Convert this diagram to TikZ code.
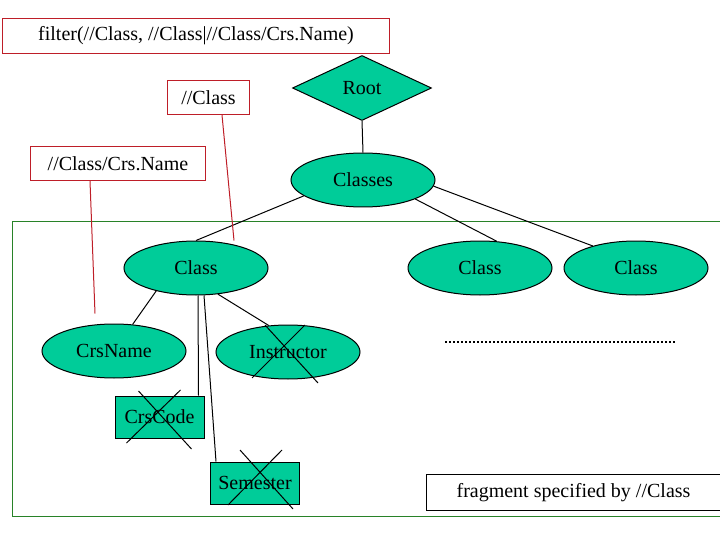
\documentclass[tikz,border=0pt]{standalone}
\usepackage{fontspec}
\setmainfont{Liberation Serif}
\usetikzlibrary{shapes.geometric}
\definecolor{elfill}{RGB}{0,204,153}
\definecolor{boxred}{RGB}{190,30,40}
\definecolor{framegreen}{RGB}{40,130,40}
\begin{document}
\begin{tikzpicture}[x=1pt,y=-1pt,line width=1pt,
  font=\fontsize{20}{24}\selectfont,
  elem/.style={ellipse,draw,fill=elfill,inner sep=0pt,minimum width=144pt,minimum height=54pt},
  attr/.style={rectangle,draw,fill=elfill,inner sep=0pt,minimum width=89pt,minimum height=42pt},
  query/.style={rectangle,draw=boxred,inner sep=0pt,anchor=north west},
  tie/.style={draw=boxred}]
\useasboundingbox (0,0) rectangle (720,540);

% fragment frame
\draw[framegreen] (12,222) -- (722,222);
\draw[framegreen] (722,516) -- (12,516) -- (12,222);

% query boxes
\node[query,minimum width=387pt,minimum height=35pt] (filter) at (2,18) {filter(//Class, //Class|//Class/Crs.Name)};
\node[query,minimum width=82pt,minimum height=34pt] (qclass) at (167,80) {//Class};
\node[query,minimum width=175pt,minimum height=34pt] (qname) at (30,146) {//Class/Crs.Name};

% tree
\node[diamond,draw,fill=elfill,inner sep=0pt,minimum width=139pt,minimum height=65pt] (root) at (362,88) {Root};
\node[elem] (classes) at (363,180) {Classes};
\node[elem] (class1) at (196,268) {Class};
\node[elem] (class2) at (480,268) {Class};
\node[elem] (class3) at (636,268) {Class};
\node[elem] (crsname) at (114,351) {CrsName};
\node[elem] (instr) at (288,352) {Instructor};
\node[attr] (crscode) at (159.5,417) {CrsCode};
\node[attr] (semester) at (255,483) {Semester};

\draw (root.south) -- (classes.north);
\draw (classes.195) -- (class1.north);
\draw (classes.340) -- (class2.58);
\draw (classes.355) -- (class3.153);
\draw (class1.210) -- (crsname.55);
\draw (class1.310) -- (instr.126);
\draw ([xshift=2pt]class1.south) -- ([xshift=-6pt]crscode.north east);
\draw ([xshift=8pt]class1.south) -- ([xshift=6pt]semester.north west);

% red ties
\draw[tie] ([xshift=55pt]qclass.south west) -- ([xshift=38pt]class1.north);
\draw[tie] ([xshift=60pt]qname.south west) -- ([xshift=-19pt,yshift=10pt]crsname.north);

% crossed out
\draw ([shift={(-23,-27)}]instr.center) -- ([shift={(30,31)}]instr.center);
\draw ([shift={(17,-27)}]instr.center) -- ([shift={(-36,26)}]instr.center);
\draw ([shift={(-21,-26)}]crscode.center) -- ([shift={(32,32)}]crscode.center);
\draw ([shift={(21,-27)}]crscode.center) -- ([shift={(-33,26)}]crscode.center);
\draw ([shift={(-15,-33)}]semester.center) -- ([shift={(38,26)}]semester.center);
\draw ([shift={(27,-33)}]semester.center) -- ([shift={(-27,22)}]semester.center);

% more siblings
\node[inner sep=0pt] (dots) at (560,340) {\rule{0pt}{0pt}};
\draw[line width=2pt,dash pattern=on 2pt off 2pt] (445,342) -- (675,342);

\node[rectangle,draw,inner sep=0pt,minimum width=294pt,minimum height=36pt,anchor=north west] (frag) at (426,474) {fragment specified by //Class};
\end{tikzpicture}
\end{document}
